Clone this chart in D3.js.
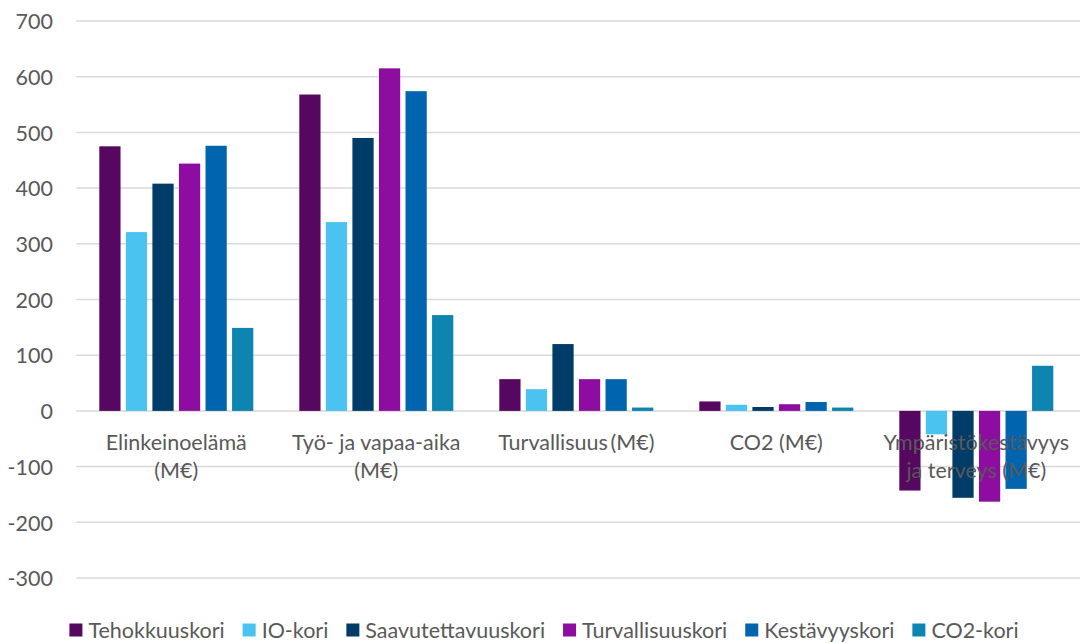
<!DOCTYPE html>
<html>
<head>
<meta charset="utf-8">
<script src="https://cdn.jsdelivr.net/npm/d3@7"></script>
<style>
  html, body { margin: 0; padding: 0; background: #fff; }
  svg { display: block; }
  text { font-family: Lato, "Open Sans", sans-serif; fill: #595959; }
</style>
</head>
<body>
<svg id="chart" width="1080" height="643"></svg>
<script>
const categories = [
  ["Elinkeinoelämä", "(M€)"],
  ["Työ- ja vapaa-aika", "(M€)"],
  ["Turvallisuus\u2009(M€)"],
  ["CO2 (M€)"],
  ["Ympäristökestävyys", "ja terveys (M€)"]
];
const seriesNames = ["Tehokkuuskori", "IO-kori", "Saavutettavuuskori", "Turvallisuuskori", "Kestävyyskori", "CO2-kori"];
const seriesColors = ["#56075F", "#4BC3F1", "#003C68", "#8E0DA1", "#0064AE", "#0E84B0"];
const tehokkuuskori = [475, 568, 57, 17, -143];
const ioKori = [321, 339, 39, 11, -42];
const saavutettavuuskori = [408, 490, 120, 7, -156];
const turvallisuuskori = [444, 615, 57, 12, -163];
const kestavyyskori = [476, 574, 57, 16, -140];
const co2Kori = [149, 172, 6, 6, 81];
const yTicks = [-300, -200, -100, 0, 100, 200, 300, 400, 500, 600, 700];

const seriesValues = [tehokkuuskori, ioKori, saavutettavuuskori, turvallisuuskori, kestavyyskori, co2Kori];

const FS = 21.5;
const svg = d3.select("#chart");
const plotLeft = 76.3, plotRight = 1076.3, plotTop = 21, plotBottom = 578;

const y = d3.scaleLinear().domain([-300, 700]).range([plotBottom, plotTop]);
const x0 = d3.scaleBand().domain(d3.range(categories.length)).range([plotLeft, plotRight]).padding(0);
const x1 = d3.scaleBand().domain(d3.range(seriesNames.length)).range([23, x0.bandwidth() - 23]).paddingInner(0.2).paddingOuter(0);

// gridlines
svg.append("g").selectAll("line").data(yTicks).join("line")
  .attr("x1", plotLeft).attr("x2", 1080)
  .attr("y1", d => y(d)).attr("y2", d => y(d))
  .attr("stroke", "#d9d9d9").attr("stroke-width", 1.5);

// y axis labels
const yAxis = d3.axisLeft(y).tickValues(yTicks).tickSize(0).tickPadding(0).tickFormat(d => String(d));
const yg = svg.append("g").attr("transform", `translate(53,0)`).call(yAxis);
yg.select(".domain").remove();
yg.selectAll("text").attr("font-size", FS).attr("font-family", "Lato").attr("fill", "#595959").attr("dy", "0.36em");

// bars
const groups = svg.append("g").selectAll("g").data(categories).join("g")
  .attr("transform", (d, i) => `translate(${x0(i)},0)`);
groups.selectAll("rect").data((d, i) => seriesValues.map((s, j) => ({ j, v: s[i] })))
  .join("rect")
  .attr("x", d => x1(d.j))
  .attr("width", x1.bandwidth())
  .attr("y", d => y(Math.max(0, d.v)))
  .attr("height", d => Math.abs(y(d.v) - y(0)))
  .attr("fill", d => seriesColors[d.j]);

// category labels
const catG = svg.append("g");
categories.forEach((lines, i) => {
  const cx = x0(i) + x0.bandwidth() / 2;
  const t = catG.append("text").attr("text-anchor", "middle").attr("font-size", FS);
  lines.forEach((ln, k) => {
    t.append("tspan").attr("x", cx).attr("y", 450 + k * 28).text(ln);
  });
});

// legend
const leg = svg.append("g");
let xpos = 0;
seriesNames.forEach((name, j) => {
  const g = leg.append("g");
  g.append("rect").attr("x", xpos).attr("y", -7).attr("width", 13).attr("height", 13).attr("fill", seriesColors[j]);
  const t = g.append("text").attr("x", xpos + 19).attr("y", 0).attr("dy", "0.36em").attr("font-size", FS).text(name);
  xpos += 19 + t.node().getComputedTextLength() + 18;
});
const total = xpos - 18;
leg.attr("transform", `translate(${544 - total / 2},630.5)`);
</script>
</body>
</html>
